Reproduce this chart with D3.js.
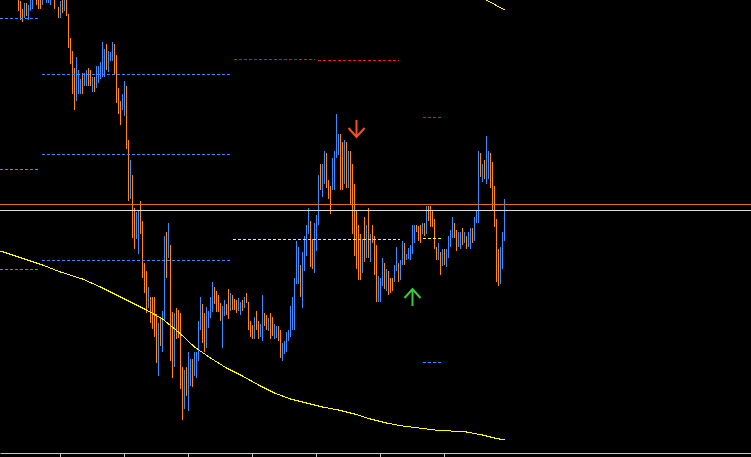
<!DOCTYPE html>
<html>
<head>
<meta charset="utf-8">
<script src="https://cdn.jsdelivr.net/npm/d3@7"></script>
<style>
  html, body { margin: 0; padding: 0; background: #000; overflow: hidden; }
  svg { display: block; }
</style>
</head>
<body>
<svg id="chart"></svg>
<script>
// prices in points (1 point = 0.0001), one bar per entry
const highs = [
  11003, 10999, 10991, 10997, 10997, 10995, 11002, 11004, 11010, 11004,
  11002, 11002, 11006, 11012, 11006, 11005, 11004, 11010, 11006, 11010,
  10993, 10999, 11002, 11003, 11002, 10986, 10962, 10949, 10932, 10943,
  10930, 10921, 10927, 10927, 10930, 10932, 10930, 10923, 10923, 10934,
  10934, 10938, 10958, 10951, 10956, 10949, 10948, 10958, 10956, 10945,
  10912, 10899, 10906, 10919, 10914, 10860, 10840, 10825, 10792, 10788,
  10790, 10799, 10779, 10737, 10729, 10713, 10703, 10703, 10703, 10686,
  10677, 10682, 10689, 10764, 10768, 10777, 10755, 10688, 10687, 10692,
  10690, 10687, 10633, 10630, 10633, 10648, 10641, 10641, 10648, 10648,
  10679, 10703, 10696, 10687, 10693, 10689, 10703, 10718, 10713, 10709,
  10705, 10697, 10694, 10700, 10696, 10711, 10707, 10705, 10701, 10700,
  10702, 10698, 10700, 10703, 10707, 10698, 10679, 10675, 10683, 10689,
  10679, 10676, 10705, 10687, 10685, 10682, 10687, 10683, 10676, 10674,
  10674, 10670, 10657, 10659, 10668, 10670, 10694, 10703, 10722, 10759,
  10753, 10735, 10748, 10764, 10775, 10792, 10779, 10761, 10777, 10785,
  10825, 10836, 10836, 10849, 10847, 10820, 10814, 10842, 10849, 10886,
  10866, 10866, 10858, 10860, 10858, 10849, 10849, 10836, 10816, 10790,
  10775, 10766, 10761, 10783, 10775, 10792, 10766, 10775, 10764, 10755,
  10724, 10722, 10742, 10737, 10731, 10729, 10722, 10722, 10735, 10753,
  10737, 10740, 10759, 10757, 10746, 10752, 10755, 10775, 10775, 10775,
  10774, 10775, 10777, 10777, 10794, 10794, 10794, 10790, 10781, 10753,
  10757, 10748, 10751, 10751, 10751, 10764, 10770, 10783, 10777, 10770,
  10768, 10768, 10772, 10768, 10764, 10768, 10772, 10772, 10783, 10789,
  10849, 10847, 10836, 10840, 10864, 10849, 10847, 10838, 10814, 10781,
  10751, 10753, 10768, 10801
];
const lows = [
  10990, 10981, 10979, 10983, 10985, 10981, 10990, 10992, 11002, 10996,
  10992, 10992, 10996, 11003, 10998, 10998, 10996, 11002, 10992, 11001,
  10983, 10983, 10988, 10990, 10985, 10953, 10937, 10907, 10891, 10900,
  10907, 10907, 10907, 10915, 10915, 10915, 10915, 10909, 10909, 10913,
  10918, 10922, 10924, 10924, 10931, 10929, 10940, 10940, 10926, 10898,
  10887, 10876, 10891, 10885, 10852, 10800, 10802, 10763, 10752, 10762,
  10747, 10767, 10723, 10708, 10688, 10693, 10678, 10672, 10664, 10638,
  10625, 10655, 10649, 10680, 10723, 10743, 10640, 10623, 10634, 10662,
  10663, 10612, 10581, 10592, 10605, 10590, 10615, 10614, 10625, 10623,
  10640, 10671, 10658, 10649, 10653, 10673, 10683, 10689, 10697, 10689,
  10689, 10680, 10653, 10685, 10686, 10682, 10690, 10691, 10691, 10688,
  10690, 10686, 10690, 10693, 10698, 10671, 10664, 10662, 10662, 10671,
  10662, 10664, 10660, 10675, 10671, 10670, 10662, 10665, 10662, 10663,
  10660, 10643, 10640, 10647, 10649, 10660, 10664, 10671, 10671, 10717,
  10717, 10704, 10693, 10730, 10745, 10767, 10734, 10732, 10728, 10750,
  10776, 10811, 10804, 10817, 10813, 10802, 10787, 10811, 10811, 10843,
  10846, 10811, 10811, 10817, 10813, 10813, 10796, 10767, 10745, 10732,
  10721, 10721, 10728, 10739, 10743, 10743, 10739, 10758, 10726, 10699,
  10699, 10699, 10715, 10712, 10710, 10706, 10708, 10710, 10719, 10730,
  10719, 10721, 10736, 10736, 10741, 10742, 10741, 10747, 10758, 10769,
  10760, 10758, 10767, 10765, 10767, 10780, 10774, 10774, 10752, 10741,
  10741, 10726, 10735, 10736, 10734, 10743, 10754, 10763, 10763, 10750,
  10754, 10752, 10756, 10758, 10752, 10754, 10752, 10758, 10760, 10778,
  10778, 10824, 10819, 10822, 10817, 10822, 10813, 10791, 10774, 10719,
  10715, 10717, 10732, 10760
];
// u = bar closed up, d = bar closed down
const directions = (
  "ddd u d uuuu d   dd uuuuu ddd   d u d u ddddd u   uu d uu dd u d u   uuuu d uuu dd " +
  "dd uu dd u dd u   u dddd u dddd   u d uu d u dd u d   ddd u d uu d uu   uu dd uuuu dd " +
  "dd uu dd u ddd   uu d u dddd u d   d uu dd u dd uu   dd uuuuuuuu   u d uuuu dd uu " +
  "u d uu ddd uuu   u dd u d u dddd   dd u d u d u ddd   uuu d u ddd uu   d uu d uuuuu d " +
  "dd u d u ddddd   u d u d uuuu dd   uu d u d uu d uu   u d u d uu dddd   d uuu"
).replace(/\s/g, "").split("");

// moving averages (bar index, value)
const maBars = [-9, 0, 12, 21, 32, 41, 48, 56, 64, 72, 80, 88, 96, 104, 112, 120, 128, 136,
  144, 152, 160, 168, 176, 184, 192, 200, 208, 216, 224, 232, 238, 243];
const maValues = [10749, 10743, 10735, 10728, 10721, 10713, 10706, 10698, 10690, 10681,
  10668, 10653, 10642, 10632, 10624, 10615, 10607, 10601, 10597, 10593,
  10590, 10586, 10581, 10577, 10574, 10572, 10570, 10569, 10568, 10565, 10562, 10560];
const upperMaBars = [220, 234, 243];
const upperMaValues = [11016, 11000, 10990];

// level lines: prices and the bar span they cover
const earlyLevels = [10982, 10831, 10731];
const earlySpan = [-9, 10.5];
const dayLevels = [10926, 10846, 10740];
const daySpan = [12, 107];
const redLevels = [10941, 10940];
const redSpans = [[108, 148.5], [150, 190.5]];
const yellowLevel = 10761;
const yellowSpan = [107.5, 191];
const lastLevels = [10883, 10762, 10638];
const lastSpan = [202.5, 212.5];
const orangeLine = 10796;
const greyLine = 10790;

// signals
const sellBars = [169];
const sellPrices = [10863];
const buyBars = [197];
const buyPrices = [10711];

const tickBars = d3.range(21, highs.length, 32);

const width = 751, height = 457;
const BLUE = "#3a8cff", ORANGE = "#ff8c00";

const svg = d3.select("#chart").attr("width", width).attr("height", height);
svg.append("rect").attr("width", width).attr("height", height).attr("fill", "#000");

const x = d3.scaleLinear().domain([-9, 366.5]).range([0, width]);
const y = d3.scaleLinear().domain([10543, 11000]).range([height, 0]);
const px = i => Math.round(x(i)) + 0.5;
const py = p => Math.round(y(p)) + 0.5;

const bars = highs.map((h, i) => ({ i, high: h, low: lows[i], dir: directions[i] }));

svg.append("g")
  .attr("shape-rendering", "crispEdges")
  .selectAll("line")
  .data(bars)
  .join("line")
  .attr("x1", d => px(d.i))
  .attr("x2", d => px(d.i))
  .attr("y1", d => y(d.high))
  .attr("y2", d => y(d.low) + 1)
  .attr("stroke", d => d.dir === "u" ? BLUE : ORANGE)
  .attr("stroke-width", 1);

// dashed levels
const levels = []
  .concat(earlyLevels.map(p => ({ p, span: earlySpan, color: BLUE })))
  .concat(dayLevels.map(p => ({ p, span: daySpan, color: BLUE })))
  .concat([
    { p: redLevels[0], span: redSpans[0], color: "#c81e1e" },
    { p: redLevels[1], span: redSpans[1], color: "#ff1414" },
    { p: yellowLevel, span: yellowSpan, color: "#ffff00" },
    { p: lastLevels[0], span: lastSpan, color: "#c81e1e" },
    { p: lastLevels[1], span: lastSpan, color: "#ffff00" },
    { p: lastLevels[2], span: lastSpan, color: BLUE }
  ]);

svg.append("g")
  .attr("shape-rendering", "crispEdges")
  .selectAll("line")
  .data(levels)
  .join("line")
  .attr("x1", d => Math.round(x(d.span[0])))
  .attr("x2", d => Math.round(x(d.span[1])))
  .attr("y1", d => py(d.p))
  .attr("y2", d => py(d.p))
  .attr("stroke", d => d.color)
  .attr("stroke-width", 1)
  .attr("stroke-dasharray", "3,2");

// solid horizontal lines
svg.append("g")
  .attr("shape-rendering", "crispEdges")
  .selectAll("line")
  .data([{ p: orangeLine, color: "#e06c1e" }, { p: greyLine, color: "#dcdcdc" }])
  .join("line")
  .attr("x1", 0)
  .attr("x2", width)
  .attr("y1", d => py(d.p))
  .attr("y2", d => py(d.p))
  .attr("stroke", d => d.color)
  .attr("stroke-width", 1);

// moving averages
const line = d3.line().x(d => x(d[0]) + 0.5).y(d => y(d[1]));
svg.append("path")
  .attr("d", line(d3.zip(maBars, maValues)))
  .attr("fill", "none")
  .attr("stroke", "#ffff00")
  .attr("stroke-width", 1)
  .attr("shape-rendering", "crispEdges");
svg.append("path")
  .attr("d", line(d3.zip(upperMaBars, upperMaValues)))
  .attr("fill", "none")
  .attr("stroke", "#ffff00")
  .attr("stroke-width", 1)
  .attr("shape-rendering", "crispEdges");

// arrows
function arrowPath(cx, tip, dirSign) {
  // dirSign 1 = pointing down, -1 = pointing up
  const tail = tip - dirSign * 17;
  const head = tip - dirSign * 9;
  return `M${cx},${tail}V${tip}M${cx - 8},${head}L${cx},${tip}L${cx + 8},${head}`;
}
svg.append("g")
  .selectAll("path")
  .data(d3.zip(sellBars, sellPrices))
  .join("path")
  .attr("d", d => arrowPath(px(d[0]), y(d[1]), 1))
  .attr("fill", "none")
  .attr("stroke", "#ff4b1e")
  .attr("stroke-width", 2);
svg.append("g")
  .selectAll("path")
  .data(d3.zip(buyBars, buyPrices))
  .join("path")
  .attr("d", d => arrowPath(px(d[0]), y(d[1]), -1))
  .attr("fill", "none")
  .attr("stroke", "#3cc83c")
  .attr("stroke-width", 2);

// time axis
const axis = svg.append("g")
  .attr("transform", "translate(0,453)")
  .call(d3.axisBottom(x).tickValues(tickBars).tickFormat("").tickSize(4).tickSizeOuter(0));
axis.select(".domain").attr("stroke", "#c8c8c8");
axis.selectAll(".tick line").attr("stroke", "#c8c8c8");
</script>
</body>
</html>
